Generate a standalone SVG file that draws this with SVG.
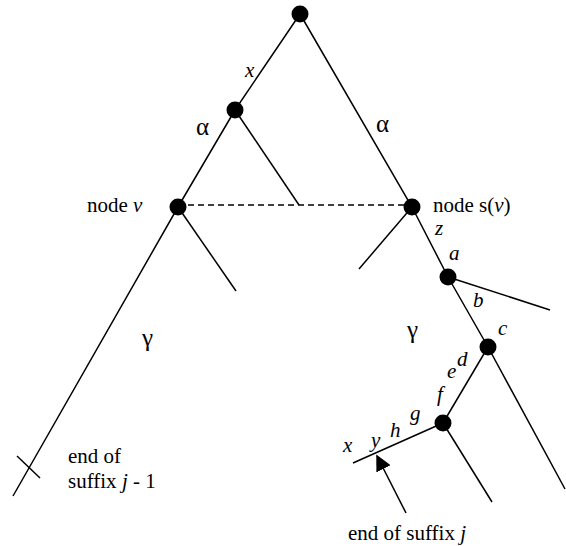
<svg xmlns="http://www.w3.org/2000/svg" width="566" height="546" viewBox="0 0 566 546">
<style>
.e{stroke:#000;stroke-width:1.5;fill:none;stroke-linecap:butt}
.d{stroke-dasharray:6,4}
.n{fill:#000}
text{font-family:"Liberation Serif","Times New Roman",serif;font-size:21px;fill:#000}
.i{font-style:italic}
.g{font-size:25px}
</style>
<defs>
<marker id="ah" viewBox="0 0 10 10" refX="9" refY="5" markerWidth="16" markerHeight="16" markerUnits="userSpaceOnUse" orient="auto">
<path d="M0,0 L10,5 L0,10 z" fill="#000"/>
</marker>
</defs>
<rect width="566" height="546" fill="#fff"/>
<g id="connectors">
<polyline class="e" points="300,14 235,110 178,207 13,496"/>
<line class="e" x1="235" y1="110" x2="299" y2="205"/>
<line class="e" x1="178" y1="207" x2="236" y2="291"/>
<line class="e d" x1="178" y1="205" x2="411" y2="205"/>
<polyline class="e" points="300,14 412,207 448,277 488,347 565,489"/>
<line class="e" x1="412" y1="207" x2="359" y2="269"/>
<line class="e" x1="448" y1="277" x2="550" y2="310"/>
<line class="e" x1="488" y1="347" x2="443" y2="423"/>
<line class="e" x1="443" y1="423" x2="353" y2="463"/>
<line class="e" x1="443" y1="423" x2="492" y2="502"/>
<line class="e" x1="17" y1="456" x2="40" y2="478"/>
<line class="e" x1="406" y1="513" x2="377" y2="456" marker-end="url(#ah)"/>
</g>
<g id="root"><circle class="n" cx="300" cy="14" r="8.5"/></g>
<g id="node-alpha"><circle class="n" cx="235" cy="110" r="8.5"/></g>
<g id="node-v"><circle class="n" cx="178" cy="207" r="8.5"/><text x="87" y="212">node <tspan class="i">v</tspan></text></g>
<g id="node-sv"><circle class="n" cx="412" cy="207" r="8.5"/><text x="433" y="212">node s(<tspan class="i">v</tspan>)</text></g>
<g id="node-a"><circle class="n" cx="448" cy="277" r="8.5"/></g>
<g id="node-c"><circle class="n" cx="488" cy="347" r="8.5"/></g>
<g id="node-f"><circle class="n" cx="443" cy="423" r="8.5"/></g>
<g id="labels">
<text class="i" x="245" y="77">x</text>
<text class="g" x="196" y="135">α</text>
<text class="g" x="376" y="132">α</text>
<text class="i" x="435" y="235">z</text>
<text class="i" x="449" y="260">a</text>
<text class="i" x="473" y="307">b</text>
<text class="i" x="498" y="335">c</text>
<text class="g" x="142" y="346">γ</text>
<text class="g" x="407" y="338">γ</text>
<text class="i" x="457" y="366">d</text>
<text class="i" x="447" y="378">e</text>
<text class="i" x="437" y="401">f</text>
<text class="i" x="410" y="420">g</text>
<text class="i" x="390" y="437">h</text>
<text class="i" x="371" y="447">y</text>
<text class="i" x="343" y="452">x</text>
<text x="68" y="463">end of</text>
<text x="68" y="488">suffix <tspan class="i">j</tspan> - 1</text>
<text x="348" y="540">end of suffix <tspan class="i">j</tspan></text>
</g>
</svg>
